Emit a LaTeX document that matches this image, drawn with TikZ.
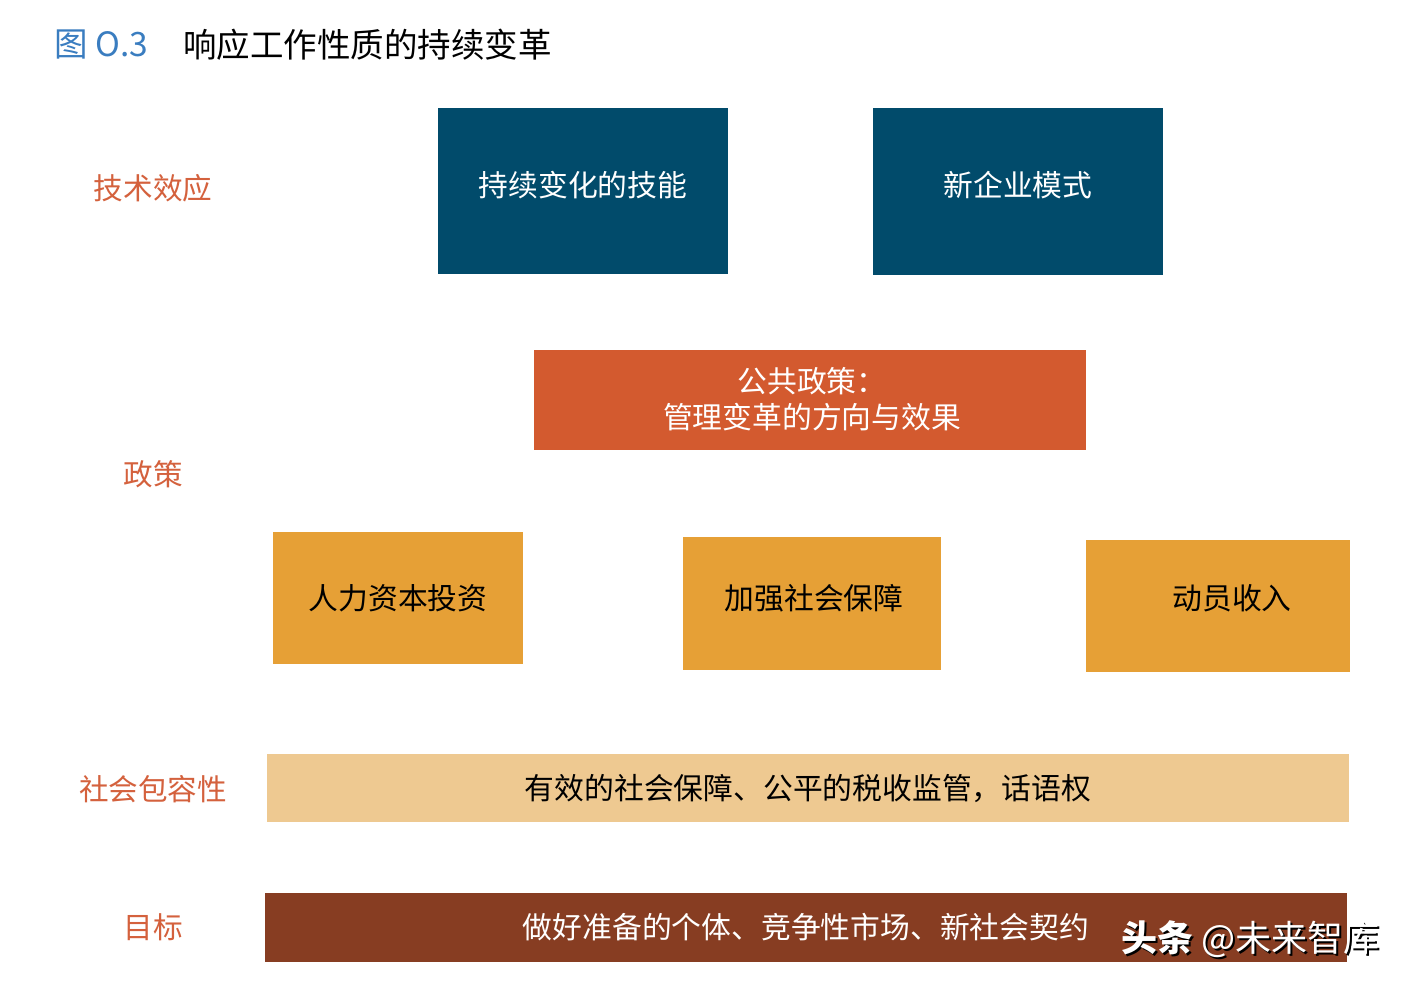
\documentclass[tikz,border=0pt]{standalone}
\usepackage{fontspec}
\setmainfont{Noto Sans CJK SC}
\newfontfamily\cjk{Noto Sans CJK SC}
\definecolor{teal}{HTML}{014B6B}
\definecolor{redorange}{HTML}{D35A2F}
\definecolor{orangeb}{HTML}{E6A036}
\definecolor{tan}{HTML}{EEC991}
\definecolor{brownb}{HTML}{873D22}
\definecolor{lbl}{HTML}{D4613D}
\definecolor{titleblue}{HTML}{3A7DC0}
\begin{document}
\begin{tikzpicture}[x=1pt,y=-1pt,
  box/.style={inner sep=0pt,outer sep=0pt,align=center,font=\cjk\fontsize{29.8}{36}\selectfont},
  lefttext/.style={text=lbl,font=\cjk\fontsize{29.6}{32}\selectfont,inner sep=0pt}]
\useasboundingbox (0,0) rectangle (1410,988);
\fill[white] (0,0) rectangle (1410,988);
% title
\node[anchor=west,text=titleblue,font=\fontsize{33.5}{36}\selectfont,inner sep=0pt] (fig) at (54,45) {图 O.3};
\node[anchor=west,font=\fontsize{33.5}{36}\selectfont,inner sep=0pt] (title) at (183,45) {响应工作性质的持续变革};
% left labels
\node[lefttext] (l1) at (153,188) {技术效应};
\node[lefttext] (l2) at (153,474) {政策};
\node[lefttext] (l3) at (153,789) {社会包容性};
\node[lefttext] (l4) at (153,927) {目标};
% boxes
\fill[teal] (438,108) rectangle (728,274);
\node[box,text=white] (b1) at (583,185) {持续变化的技能};
\fill[teal] (873,108) rectangle (1163,275);
\node[box,text=white] (b2) at (1018,185) {新企业模式};
\fill[redorange] (534,350) rectangle (1086,450);
\node[box,text=white] (b3) at (812,399) {公共政策：\\管理变革的方向与效果};
\fill[orangeb] (273,532) rectangle (523,664);
\node[box,text=black] (b4) at (398,598) {人力资本投资};
\fill[orangeb] (683,537) rectangle (941,670);
\node[box,text=black] (b5) at (814,598) {加强社会保障};
\fill[orangeb] (1086,540) rectangle (1350,672);
\node[box,text=black] (b6) at (1232,598) {动员收入};
\fill[tan] (267,754) rectangle (1349,822);
\node[box,text=black] (b7) at (808,789) {有效的社会保障、公平的税收监管，话语权};
\fill[brownb] (265,893) rectangle (1347,962);
\node[box,text=white] (b8) at (806,927) {做好准备的个体、竞争性市场、新社会契约};
% watermark
\node[anchor=west,inner sep=0pt,text=black,font=\cjk\fontsize{36}{40}\selectfont] (wm2) at (1123,941) {\textbf{头条} @未来智库};
\node[anchor=west,inner sep=0pt,text=white,font=\cjk\fontsize{36}{40}\selectfont] (wm) at (1121,939) {\textbf{头条} @未来智库};
\end{tikzpicture}
\end{document}
